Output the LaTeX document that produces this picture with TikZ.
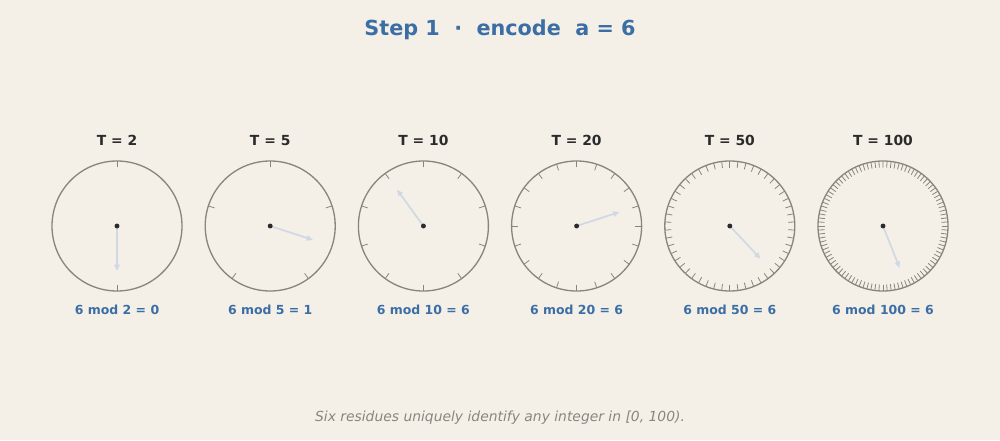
\documentclass[tikz,border=0pt]{standalone}
\usepackage{fontspec}
\setmainfont{DejaVu Sans}
\usetikzlibrary{arrows.meta}
\definecolor{paper}{HTML}{F4F0E8}
\definecolor{stepblue}{HTML}{3B6EA5}
\definecolor{ink}{HTML}{2B2B2B}
\definecolor{rim}{HTML}{8A847C}
\definecolor{note}{HTML}{8A857E}
\definecolor{handc}{HTML}{D0D8E3}
\begin{document}
\begin{tikzpicture}[x=0.02cm, y=0.02cm,
    rimline/.style={rim, line width=0.75pt},
    tickline/.style={rim, line width=0.45pt},
    handline/.style={handc, line width=0.95pt, -{Triangle[length=3.6pt, width=3pt]}}]
  \fill[paper] (0,0) rectangle (1000,440);

  \node[text=stepblue, font=\bfseries\fontsize{11.8}{14}\selectfont] (title) at (500,410) {Step 1~~·~~encode~~a = 6};

  \foreach \per/\res [count=\i] in {2/0, 5/1, 10/6, 20/6, 50/6, 100/6} {
    \coordinate (c\i) at ({117+153.2*(\i-1)},214);
    \draw[rimline] (c\i) circle (65);
    \foreach \k in {1,...,\per}
      \draw[tickline, shift={(c\i)}] ({90-360/\per*\k}:58.5) -- ({90-360/\per*\k}:65);
    \path[shift={(c\i)}] ({-90+360/\per*\res}:45) coordinate (h\i);
    \draw[handline] (c\i) -- (h\i);
    \node[circle, fill=ink, inner sep=0, minimum size=2.8pt] (dot\i) at (c\i) {};
    \node[anchor=base, text=ink, font=\bfseries\fontsize{7.9}{9}\selectfont] (per\i) at ({117+153.2*(\i-1)},295) {T = \per};
    \node[anchor=base, text=stepblue, font=\bfseries\fontsize{7.1}{9}\selectfont] (res\i) at ({117+153.2*(\i-1)},126) {6 mod \per{} = \res};
  }

  \node[text=note, font=\itshape\fontsize{7.9}{9}\selectfont] (foot) at (500,22) {Six residues uniquely identify any integer in [0, 100).};
\end{tikzpicture}
\end{document}
